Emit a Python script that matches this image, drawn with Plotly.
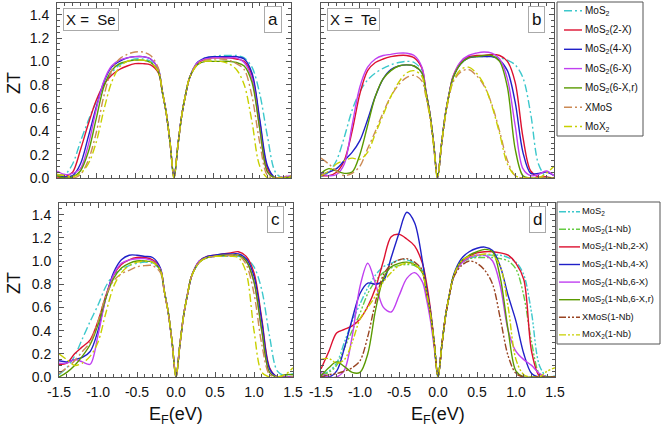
import plotly.graph_objects as go

W, H = 661, 430

# ---------------- data ----------------
EF = [-1.5, -1.4, -1.3, -1.2, -1.1, -1.0, -0.9, -0.8, -0.7, -0.6, -0.5, -0.4, -0.3, -0.2,
      -0.15, -0.1, -0.05, 0.0, 0.05, 0.1, 0.15, 0.2,
      0.3, 0.4, 0.5, 0.6, 0.7, 0.8, 0.9, 1.0, 1.1, 1.2, 1.3, 1.4, 1.5]

x_tick_vals = [-1.5, -1.0, -0.5, 0.0, 0.5, 1.0, 1.5]
x_tick_text = ["-1.5", "-1.0", "-0.5", "0.0", "0.5", "1.0", "1.5"]
y_tick_vals = [0.0, 0.2, 0.4, 0.6, 0.8, 1.0, 1.2, 1.4]
y_tick_text = ["0.0", "0.2", "0.4", "0.6", "0.8", "1.0", "1.2", "1.4"]

names_abc = ["MoS<sub>2</sub>", "MoS<sub>2</sub>(2-X)", "MoS<sub>2</sub>(4-X)", "MoS<sub>2</sub>(6-X)",
             "MoS<sub>2</sub>(6-X,r)", "XMoS", "MoX<sub>2</sub>"]
names_d = ["MoS<sub>2</sub>", "MoS<sub>2</sub>(1-Nb)", "MoS<sub>2</sub>(1-Nb,2-X)", "MoS<sub>2</sub>(1-Nb,4-X)",
           "MoS<sub>2</sub>(1-Nb,6-X)", "MoS<sub>2</sub>(1-Nb,6-X,r)", "XMoS(1-Nb)", "MoX<sub>2</sub>(1-Nb)"]

# Panel a : X = Se
a_MoS2 = [0.03, 0.03, 0.12, 0.31, 0.49, 0.65, 0.79, 0.90, 0.97, 1.00, 1.02, 1.02, 1.00, 0.92,
          0.74, 0.56, 0.30, 0.0, 0.28, 0.54, 0.72, 0.86,
          0.99, 1.03, 1.04, 1.05, 1.05, 1.05, 1.03, 0.95, 0.72, 0.35, 0.05, 0.00, 0.02]
a_2X = [0.00, 0.01, 0.05, 0.24, 0.46, 0.66, 0.80, 0.88, 0.93, 0.96, 0.98, 0.98, 0.97, 0.90,
        0.74, 0.56, 0.30, 0.0, 0.28, 0.54, 0.72, 0.86,
        0.98, 1.02, 1.03, 1.03, 1.03, 1.02, 1.00, 0.88, 0.48, 0.08, 0.00, 0.00, 0.00]
a_4X = [0.02, 0.01, 0.02, 0.12, 0.35, 0.60, 0.82, 0.95, 1.00, 1.03, 1.04, 1.04, 1.02, 0.93,
        0.74, 0.56, 0.30, 0.0, 0.28, 0.54, 0.72, 0.86,
        0.99, 1.03, 1.04, 1.04, 1.04, 1.04, 1.02, 0.90, 0.50, 0.10, 0.00, 0.00, 0.01]
a_6X = [0.06, 0.03, 0.04, 0.08, 0.28, 0.58, 0.83, 0.96, 1.01, 1.03, 1.04, 1.04, 1.02, 0.93,
        0.74, 0.56, 0.30, 0.0, 0.28, 0.54, 0.72, 0.86,
        0.99, 1.02, 1.03, 1.03, 1.03, 1.03, 0.99, 0.85, 0.42, 0.05, 0.00, 0.01, 0.02]
a_6Xr = [0.02, 0.00, 0.01, 0.06, 0.22, 0.50, 0.78, 0.92, 0.98, 1.00, 1.01, 1.01, 0.99, 0.91,
         0.74, 0.56, 0.30, 0.0, 0.28, 0.54, 0.72, 0.86,
         0.97, 1.00, 1.00, 1.00, 1.00, 0.99, 0.96, 0.82, 0.42, 0.05, 0.00, 0.00, 0.01]
a_XMoS = [0.03, 0.02, 0.00, 0.03, 0.15, 0.38, 0.70, 0.92, 1.02, 1.06, 1.08, 1.08, 1.05, 0.94,
          0.75, 0.56, 0.30, 0.0, 0.28, 0.54, 0.72, 0.86,
          0.98, 1.01, 1.02, 1.02, 1.01, 0.98, 0.93, 0.70, 0.30, 0.02, 0.00, 0.01, 0.02]
a_MoX2 = [0.03, 0.02, 0.01, 0.04, 0.12, 0.30, 0.58, 0.82, 0.95, 1.00, 1.01, 1.01, 0.99, 0.91,
          0.74, 0.56, 0.30, 0.0, 0.28, 0.54, 0.72, 0.86,
          0.97, 1.00, 1.00, 1.00, 0.98, 0.93, 0.80, 0.48, 0.10, 0.00, 0.00, 0.00, 0.01]

# Panel b : X = Te
b_MoS2 = [0.01, 0.05, 0.15, 0.35, 0.58, 0.74, 0.84, 0.90, 0.94, 0.97, 0.99, 1.00, 0.99, 0.92,
          0.74, 0.56, 0.30, 0.0, 0.28, 0.54, 0.72, 0.86,
          0.98, 1.03, 1.04, 1.04, 1.04, 1.03, 1.01, 0.97, 0.86, 0.55, 0.12, 0.01, 0.00]
b_2X = [0.02, 0.02, 0.05, 0.15, 0.40, 0.72, 0.92, 0.99, 1.02, 1.04, 1.05, 1.05, 1.03, 0.94,
        0.75, 0.56, 0.30, 0.0, 0.28, 0.54, 0.72, 0.87,
        0.99, 1.04, 1.05, 1.05, 1.06, 1.05, 1.00, 0.82, 0.35, 0.06, 0.01, 0.01, 0.00]
b_4X = [0.03, 0.05, 0.08, 0.15, 0.22, 0.32, 0.50, 0.70, 0.85, 0.93, 0.96, 0.97, 0.96, 0.90,
        0.74, 0.56, 0.30, 0.0, 0.28, 0.54, 0.72, 0.86,
        0.98, 1.03, 1.04, 1.04, 1.04, 1.01, 0.92, 0.65, 0.22, 0.04, 0.04, 0.05, 0.02]
b_6X = [0.04, 0.02, 0.03, 0.12, 0.45, 0.78, 0.95, 1.02, 1.05, 1.06, 1.07, 1.07, 1.05, 0.95,
        0.75, 0.56, 0.30, 0.0, 0.28, 0.54, 0.72, 0.87,
        1.00, 1.05, 1.07, 1.08, 1.07, 1.02, 0.85, 0.45, 0.08, 0.02, 0.03, 0.06, 0.02]
b_6Xr = [0.04, 0.08, 0.06, 0.04, 0.05, 0.20, 0.45, 0.70, 0.85, 0.92, 0.96, 0.97, 0.96, 0.90,
         0.74, 0.56, 0.30, 0.0, 0.28, 0.54, 0.72, 0.86,
         0.98, 1.03, 1.04, 1.05, 1.05, 1.00, 0.78, 0.25, 0.02, 0.00, 0.00, 0.00, 0.00]
b_XMoS = [0.17, 0.12, 0.06, 0.02, 0.04, 0.10, 0.25, 0.40, 0.56, 0.70, 0.80, 0.86, 0.88, 0.83,
          0.70, 0.53, 0.28, 0.0, 0.27, 0.52, 0.70, 0.82,
          0.91, 0.93, 0.88, 0.79, 0.63, 0.40, 0.15, 0.02, 0.00, 0.00, 0.00, 0.00, 0.00]
b_MoX2 = [0.02, 0.06, 0.12, 0.15, 0.17, 0.16, 0.22, 0.38, 0.54, 0.70, 0.82, 0.90, 0.92, 0.87,
          0.72, 0.54, 0.28, 0.0, 0.28, 0.53, 0.71, 0.83,
          0.93, 0.95, 0.90, 0.80, 0.62, 0.38, 0.12, 0.02, 0.00, 0.00, 0.00, 0.04, 0.10]

# Panel c
c_MoS2 = [0.02, 0.08, 0.18, 0.33, 0.48, 0.62, 0.78, 0.88, 0.93, 0.96, 0.98, 0.99, 0.98, 0.92,
          0.74, 0.56, 0.30, 0.0, 0.28, 0.54, 0.72, 0.87,
          0.99, 1.03, 1.04, 1.04, 1.04, 1.04, 1.02, 0.95, 0.75, 0.35, 0.05, 0.01, 0.03]
c_2X = [0.11, 0.12, 0.20, 0.26, 0.32, 0.48, 0.70, 0.88, 0.97, 1.01, 1.03, 1.03, 1.01, 0.93,
        0.74, 0.56, 0.30, 0.0, 0.28, 0.54, 0.72, 0.87,
        1.00, 1.04, 1.05, 1.06, 1.07, 1.08, 1.04, 0.90, 0.50, 0.08, 0.00, 0.00, 0.00]
c_4X = [0.14, 0.13, 0.15, 0.17, 0.22, 0.40, 0.68, 0.90, 1.01, 1.05, 1.05, 1.04, 1.03, 0.94,
        0.74, 0.56, 0.30, 0.0, 0.28, 0.54, 0.72, 0.87,
        1.00, 1.04, 1.05, 1.06, 1.06, 1.06, 1.02, 0.87, 0.48, 0.07, 0.00, 0.00, 0.00]
c_6X = [0.12, 0.12, 0.15, 0.13, 0.11, 0.36, 0.68, 0.88, 0.98, 1.01, 1.02, 1.02, 1.00, 0.93,
        0.74, 0.56, 0.30, 0.0, 0.28, 0.54, 0.72, 0.87,
        1.00, 1.03, 1.04, 1.05, 1.05, 1.05, 1.00, 0.82, 0.40, 0.04, 0.00, 0.00, 0.00]
c_6Xr = [0.00, 0.04, 0.10, 0.18, 0.28, 0.45, 0.68, 0.85, 0.94, 0.98, 1.00, 1.00, 0.99, 0.92,
         0.74, 0.56, 0.30, 0.0, 0.28, 0.54, 0.72, 0.87,
         0.99, 1.03, 1.04, 1.05, 1.05, 1.05, 1.00, 0.82, 0.40, 0.04, 0.00, 0.02, 0.02]
c_XMoS = [0.03, 0.08, 0.14, 0.22, 0.30, 0.48, 0.70, 0.83, 0.89, 0.92, 0.95, 0.96, 0.96, 0.90,
          0.73, 0.55, 0.30, 0.0, 0.28, 0.54, 0.72, 0.87,
          0.99, 1.03, 1.04, 1.04, 1.05, 1.05, 0.97, 0.72, 0.28, 0.02, 0.00, 0.00, 0.00]
c_MoX2 = [0.20, 0.15, 0.10, 0.12, 0.18, 0.30, 0.55, 0.78, 0.90, 0.96, 0.99, 1.00, 0.99, 0.92,
          0.74, 0.56, 0.30, 0.0, 0.28, 0.54, 0.72, 0.87,
          0.99, 1.03, 1.04, 1.04, 1.04, 1.03, 0.90, 0.40, 0.04, 0.00, 0.00, 0.02, 0.08]

# Panel d : Nb doped
d_MoS2 = [0.02, 0.05, 0.12, 0.30, 0.48, 0.63, 0.77, 0.88, 0.95, 0.98, 1.01, 1.01, 0.98, 0.92,
          0.74, 0.56, 0.30, 0.0, 0.28, 0.54, 0.72, 0.87,
          0.99, 1.02, 1.04, 1.05, 1.05, 1.05, 1.03, 0.99, 0.88, 0.55, 0.10, 0.00, 0.01]
d_1Nb = [0.02, 0.04, 0.10, 0.25, 0.40, 0.55, 0.72, 0.83, 0.90, 0.94, 0.96, 0.97, 0.96, 0.90,
         0.73, 0.55, 0.30, 0.0, 0.28, 0.54, 0.72, 0.86,
         0.98, 1.02, 1.03, 1.03, 1.03, 1.02, 1.00, 0.93, 0.70, 0.30, 0.03, 0.00, 0.00]
d_2X = [0.07, 0.22, 0.38, 0.41, 0.44, 0.50, 0.61, 0.77, 1.00, 1.21, 1.23, 1.19, 1.13, 0.98,
        0.82, 0.60, 0.31, 0.0, 0.28, 0.54, 0.72, 0.87,
        0.99, 1.04, 1.07, 1.08, 1.08, 1.07, 1.05, 0.98, 0.84, 0.22, 0.01, 0.00, 0.00]
d_4X = [0.01, 0.00, 0.05, 0.25, 0.50, 0.72, 0.81, 0.80, 0.83, 1.03, 1.24, 1.42, 1.33, 1.00,
        0.78, 0.58, 0.30, 0.0, 0.28, 0.54, 0.72, 0.88,
        1.02, 1.08, 1.11, 1.12, 1.09, 0.95, 0.70, 0.48, 0.20, 0.03, 0.00, 0.00, 0.00]
d_6X = [0.04, 0.00, 0.00, 0.06, 0.35, 0.78, 0.98, 0.80, 0.60, 0.56, 0.70, 0.85, 0.90, 0.82,
        0.68, 0.50, 0.26, 0.0, 0.28, 0.54, 0.72, 0.86,
        0.98, 1.03, 1.05, 1.05, 1.00, 0.78, 0.40, 0.22, 0.15, 0.10, 0.03, 0.00, 0.00]
d_6Xr = [0.01, 0.08, 0.13, 0.09, 0.04, 0.04, 0.20, 0.58, 0.85, 0.95, 0.98, 0.99, 0.97, 0.90,
         0.74, 0.56, 0.30, 0.0, 0.28, 0.54, 0.72, 0.87,
         1.00, 1.05, 1.08, 1.10, 1.08, 0.85, 0.40, 0.05, 0.00, 0.00, 0.00, 0.00, 0.00]
d_XMoS = [0.00, 0.02, 0.03, 0.05, 0.08, 0.14, 0.35, 0.65, 0.88, 0.97, 1.01, 1.02, 0.99, 0.92,
          0.74, 0.56, 0.30, 0.0, 0.28, 0.54, 0.72, 0.86,
          0.96, 1.00, 0.98, 0.92, 0.80, 0.50, 0.18, 0.03, 0.00, 0.00, 0.00, 0.00, 0.00]
d_MoX2 = [0.15, 0.16, 0.12, 0.15, 0.30, 0.50, 0.60, 0.70, 0.82, 0.90, 0.96, 0.98, 0.97, 0.90,
          0.74, 0.56, 0.30, 0.0, 0.28, 0.54, 0.72, 0.87,
          1.00, 1.04, 1.05, 1.06, 1.05, 0.95, 0.60, 0.15, 0.02, 0.00, 0.00, 0.05, 0.08]

series_a = [a_MoS2, a_2X, a_4X, a_6X, a_6Xr, a_XMoS, a_MoX2]
series_b = [b_MoS2, b_2X, b_4X, b_6X, b_6Xr, b_XMoS, b_MoX2]
series_c = [c_MoS2, c_2X, c_4X, c_6X, c_6Xr, c_XMoS, c_MoX2]
series_d = [d_MoS2, d_1Nb, d_2X, d_4X, d_6X, d_6Xr, d_XMoS, d_MoX2]

# ---------------- styles ----------------
DASHDOT = "8px,3px,2px,3px"
DASHDOTDOT = "7px,2px,2px,2px,2px,2px"
colors_abc = ["#3cc8cc", "#dd1030", "#2020c8", "#c040f0", "#5a9a00", "#cc8a55", "#c8d000"]
dashes_abc = [DASHDOT, "solid", "solid", "solid", "solid", DASHDOT, DASHDOT]
colors_d = ["#3cc8cc", "#66cc44", "#dd1030", "#2020c8", "#c040f0", "#5a9a00", "#994422", "#c8d000"]
dashes_d = [DASHDOTDOT, DASHDOTDOT, "solid", "solid", "solid", "solid", DASHDOTDOT, DASHDOTDOT]

# panel boxes in pixels: (left, right, top, bottom)
boxes = {
    "a": (57, 291, 3, 178),
    "b": (321, 554, 3, 178),
    "c": (59, 293, 203, 377),
    "d": (321, 555, 203, 377),
}

def fx(px):
    return px / W

def fy(py):
    return 1 - py / H

fig = go.Figure()

panels = [("a", series_a, colors_abc, dashes_abc, names_abc, "x", "y"),
          ("b", series_b, colors_abc, dashes_abc, names_abc, "x2", "y2"),
          ("c", series_c, colors_abc, dashes_abc, names_abc, "x3", "y3"),
          ("d", series_d, colors_d, dashes_d, names_d, "x4", "y4")]

for key, ser, cols, dsh, nms, xa, ya in panels:
    for ys, c, d, n in zip(ser, cols, dsh, nms):
        fig.add_trace(go.Scatter(x=EF, y=ys, mode="lines", name=n, showlegend=False,
                                 line=dict(color=c, width=1.4, dash=d, shape="spline", smoothing=0.9),
                                 xaxis=xa, yaxis=ya, hoverinfo="skip"))

FONT = "Liberation Sans, Arial, sans-serif"
axis_common = dict(showline=True, linecolor="#555555", linewidth=1, mirror="ticks",
                   ticks="inside", ticklen=5, tickcolor="#555555", showgrid=False, zeroline=False,
                   automargin=False,
                   tickfont=dict(family=FONT, size=14, color="#111111"))

layout = dict(width=W, height=H, margin=dict(l=0, r=0, t=0, b=0, autoexpand=False),
              paper_bgcolor="white", plot_bgcolor="white", showlegend=False,
              font=dict(family=FONT))

for i, (key, *_rest) in enumerate(panels):
    l, r, t, b = boxes[key]
    sfx = "" if i == 0 else str(i + 1)
    show_x = key in ("c", "d")
    show_y = key in ("a", "c")
    layout["xaxis" + sfx] = dict(axis_common, domain=[fx(l), fx(r)], range=[-1.5, 1.5],
                                 tickvals=x_tick_vals, ticktext=x_tick_text, showticklabels=show_x,
                                 anchor="y" + sfx, ticklabelstandoff=2,
                                 minor=dict(dtick=0.1, ticks="inside", ticklen=3, tickcolor="#555555"))
    layout["yaxis" + sfx] = dict(axis_common, domain=[fy(b), fy(t)], range=[0, 1.5],
                                 tickvals=y_tick_vals, ticktext=y_tick_text, showticklabels=show_y,
                                 anchor="x" + sfx, ticklabelstandoff=4,
                                 minor=dict(dtick=0.05, ticks="inside", ticklen=3, tickcolor="#555555"))

fig.update_layout(**layout)

shapes = []
annotations = []

# axis titles
for key, yc in (("a", 83), ("c", 283)):
    annotations.append(dict(x=fx(14), y=fy(yc), xref="paper", yref="paper",
                            xanchor="center", yanchor="middle",
                            text="ZT", textangle=-90, showarrow=False,
                            font=dict(family=FONT, size=18, color="#111111")))
for key in ("c", "d"):
    l, r, t, b = boxes[key]
    annotations.append(dict(x=fx((l + r) / 2), y=fy(415), xref="paper", yref="paper",
                            xanchor="center", yanchor="middle",
                            text="E<sub>F</sub>(eV)", showarrow=False,
                            font=dict(family=FONT, size=18, color="#111111")))

# panel letters
for key in ("a", "b", "c", "d"):
    l, r, t, b = boxes[key]
    annotations.append(dict(x=fx(r - 9), y=fy(t + 16), xref="paper", yref="paper",
                            xanchor="right", yanchor="middle", text=key, showarrow=False,
                            bordercolor="#aaaaaa", borderwidth=1, borderpad=3, bgcolor="white",
                            font=dict(family=FONT, size=17, color="#111111")))
# X labels
for key, txt in (("a", "X =  Se"), ("b", "X =  Te")):
    l, r, t, b = boxes[key]
    annotations.append(dict(x=fx(l + 6), y=fy(t + 16), xref="paper", yref="paper",
                            xanchor="left", yanchor="middle", text=txt, showarrow=False,
                            bordercolor="#aaaaaa", borderwidth=1, borderpad=2, bgcolor="white",
                            font=dict(family=FONT, size=15, color="#111111")))

# manual legends
def legend(left, right, top, bottom, y0, step, names, cols, dsh, fsize, line_x0, line_x1, text_x):
    shapes.append(dict(type="rect", xref="paper", yref="paper", x0=fx(left), x1=fx(right),
                       y0=fy(bottom), y1=fy(top), line=dict(color="#555555", width=1),
                       fillcolor="white", layer="above"))
    for i, (n, c, d) in enumerate(zip(names, cols, dsh)):
        yy = y0 + i * step
        shapes.append(dict(type="line", xref="paper", yref="paper", x0=fx(line_x0), x1=fx(line_x1),
                           y0=fy(yy), y1=fy(yy), line=dict(color=c, width=1.4, dash=d), layer="above"))
        annotations.append(dict(x=fx(text_x), y=fy(yy), xref="paper", yref="paper", xanchor="left",
                                yanchor="middle", text=n, showarrow=False,
                                font=dict(family=FONT, size=fsize, color="#111111")))

legend(557, 643, 2, 136, 10.7, 19.3, names_abc, colors_abc, dashes_abc, 10, 564, 582, 583)
legend(557, 660, 202, 344, 211.7, 17.6, names_d, colors_d, dashes_d, 9.3, 559, 580, 580)

fig.update_layout(shapes=shapes, annotations=annotations)
fig.write_html("out.html", config={"displayModeBar": False},
               post_script="document.body.style.margin='0px';document.body.style.padding='0px';")
